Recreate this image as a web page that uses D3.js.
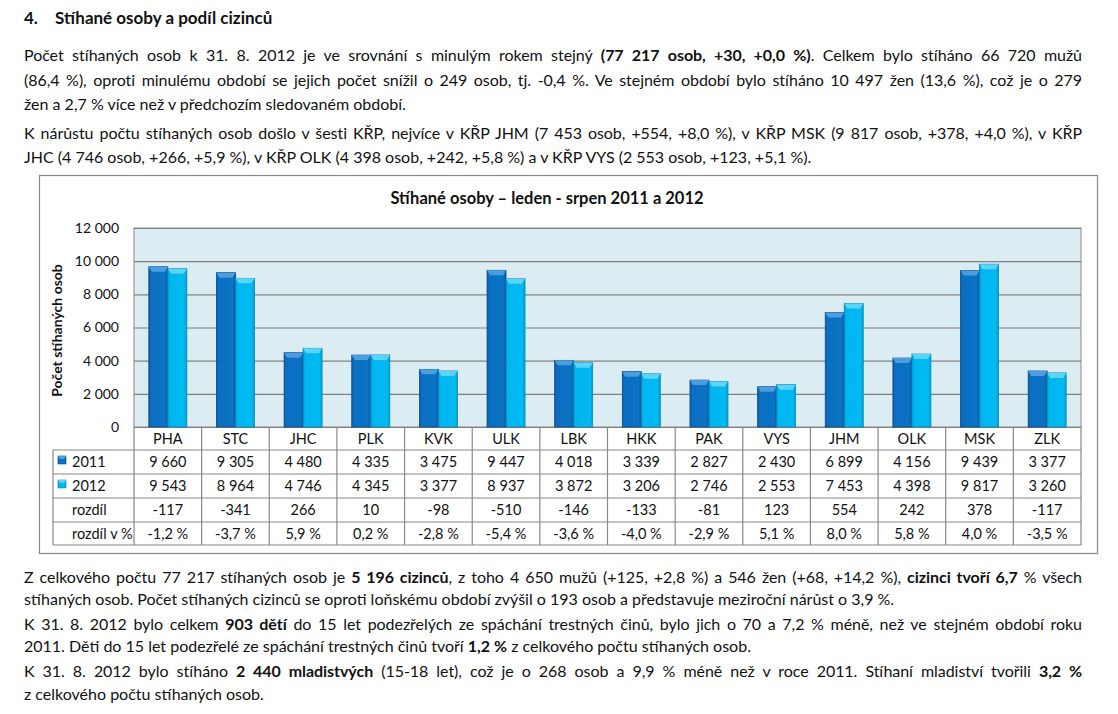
<!DOCTYPE html>
<html><head><meta charset="utf-8">
<script src="https://cdn.jsdelivr.net/npm/d3@7"></script>
<style>
html,body{margin:0;padding:0;background:#fff;}
body{width:1118px;height:714px;position:relative;overflow:hidden;font-family:Lato,"Open Sans",sans-serif;color:#111;}
.ln{position:absolute;left:24px;width:1058px;height:20px;line-height:20px;white-space:nowrap;font-size:16px;}
.ln.j{text-align:justify;text-align-last:justify;}
svg{position:absolute;left:0;top:0;}
</style></head><body>
<script>
const categories = ["PHA","STC","JHC","PLK","KVK","ULK","LBK","HKK","PAK","VYS","JHM","OLK","MSK","ZLK"];
const values2011 = [9660,9305,4480,4335,3475,9447,4018,3339,2827,2430,6899,4156,9439,3377];
const values2012 = [9543,8964,4746,4345,3377,8937,3872,3206,2746,2553,7453,4398,9817,3260];
const rozdil = [-117,-341,266,10,-98,-510,-146,-133,-81,123,554,242,378,-117];
const rozdilPct = ["-1,2 %","-3,7 %","5,9 %","0,2 %","-2,8 %","-5,4 %","-3,6 %","-4,0 %","-2,9 %","5,1 %","8,0 %","5,8 %","4,0 %","-3,5 %"];
const yTicks = [0,2000,4000,6000,8000,10000,12000];
const seriesNames = ["2011","2012"];
const chartTitle = "Stíhané osoby – leden - srpen 2011 a 2012";
const yAxisTitle = "Počet stíhaných osob";
const rowLabels = ["rozdíl","rozdíl v %"];

const loc = d3.formatLocale({decimal:",", thousands:"\u00a0", grouping:[3], currency:["",""], minus:"-"});
const fmt = loc.format(",d");

// ---------- prose ----------
const heading = {num:"4.", text:"Stíhané osoby a podíl cizinců"};
const proseLines = [
 {y:55, j:true, s:[["Počet stíhaných osob k 31. 8. 2012 je ve srovnání s minulým rokem stejný "],["(77\u00a0217 osob, +30, +0,0\u00a0%)",1],[". Celkem bylo stíháno 66\u00a0720 mužů"]]},
 {y:80, j:true, s:[["(86,4\u00a0%), oproti minulému období se jejich počet snížil o 249 osob, tj. -0,4\u00a0%. Ve stejném období bylo stíháno 10\u00a0497 žen (13,6\u00a0%), což je o 279"]]},
 {y:104, j:false, s:[["žen a 2,7\u00a0% více než v předchozím sledovaném období."]]},
 {y:133, j:true, s:[["K nárůstu počtu stíhaných osob došlo v šesti KŘP, nejvíce v KŘP JHM (7\u00a0453 osob, +554, +8,0\u00a0%), v KŘP MSK (9\u00a0817 osob, +378, +4,0\u00a0%), v KŘP"]]},
 {y:157, j:false, s:[["JHC (4\u00a0746 osob, +266, +5,9\u00a0%), v KŘP OLK (4\u00a0398 osob, +242, +5,8\u00a0%) a v KŘP VYS (2\u00a0553 osob, +123, +5,1\u00a0%)."]]},
 {y:577, j:true, s:[["Z celkového počtu 77\u00a0217 stíhaných osob je "],["5\u00a0196 cizinců",1],[", z toho 4\u00a0650 mužů (+125, +2,8\u00a0%) a 546 žen (+68, +14,2\u00a0%), "],["cizinci tvoří 6,7",1],["\u00a0% všech"]]},
 {y:599, j:false, s:[["stíhaných osob. Počet stíhaných cizinců se oproti loňskému období zvýšil o 193 osob a představuje meziroční nárůst o 3,9\u00a0%."]]},
 {y:624, j:true, s:[["K 31. 8. 2012 bylo celkem "],["903 dětí",1],[" do 15 let podezřelých ze spáchání trestných činů, bylo jich o 70 a 7,2\u00a0% méně, než ve stejném období roku"]]},
 {y:646, j:false, s:[["2011. Děti do 15 let podezřelé ze spáchání trestných činů tvoří "],["1,2\u00a0%",1],[" z celkového počtu stíhaných osob."]]},
 {y:671, j:true, s:[["K 31. 8. 2012 bylo stíháno "],["2\u00a0440 mladistvých",1],[" (15-18 let), což je o 268 osob a 9,9\u00a0% méně než v roce 2011. Stíhaní mladiství tvořili "],["3,2\u00a0%",1]]},
 {y:694, j:false, s:[["z celkového počtu stíhaných osob."]]}
];

const body = d3.select("body");
const h = body.append("div").attr("class","ln").style("top","8px").style("font-size","17px").style("font-weight","bold");
h.append("span").text(heading.num).style("display","inline-block").style("width","31px");
h.append("span").text(heading.text);

proseLines.forEach(l=>{
  const d = body.append("div").attr("class","ln"+(l.j?" j":"")).style("top",(l.y-10)+"px");
  const inner = d.append("span");
  l.s.forEach(seg=>{ inner.append("span").text(seg[0]).style("font-weight",seg[1]?"bold":null); });
  // shrink letter spacing if natural width overflows the column
  const w = inner.node().getBoundingClientRect().width;
  if (w > 1056) {
    const n = inner.text().length;
    d.style("letter-spacing", (-(w-1052)/n).toFixed(3)+"px");
  }
  // unwrap so justification applies to the whole line
  const node = inner.node();
  while (node.firstChild) d.node().insertBefore(node.firstChild, node);
  node.remove();
});

// ---------- chart ----------
const svg = body.append("svg").attr("width",1118).attr("height",714).style("pointer-events","none");
const defs = svg.append("defs");
function grad(id, stops){
  const g = defs.append("linearGradient").attr("id",id).attr("x1","0").attr("x2","1").attr("y1","0").attr("y2","0");
  stops.forEach(s=>g.append("stop").attr("offset",s[0]).attr("stop-color",s[1]));
}
grad("g2011",[[0,"#0a5ea8"],[0.12,"#0a6fc2"],[0.85,"#0b72c4"],[1,"#0a5a9e"]]);
grad("g2012",[[0,"#00a0dc"],[0.12,"#00b6f0"],[0.85,"#00baf2"],[1,"#009fd6"]]);
const topCol = ["#4a9ee0","#5cd4fa"];
const edgeCol = ["#0b4a80","#0a86b8"];

const box = {x:39, y:175, w:1058, h:378};
svg.append("rect").attr("x",box.x+0.5).attr("y",box.y+0.5).attr("width",box.w).attr("height",box.h)
  .attr("fill","none").attr("stroke","#888").attr("stroke-width",1.2);

const plot = {l:134, r:1081, t:228, b:427};
const x = d3.scaleBand().domain(categories).range([plot.l, plot.r]);
const y = d3.scaleLinear().domain([0,12000]).range([plot.b, plot.t]);

svg.append("rect").attr("x",plot.l).attr("y",plot.t).attr("width",plot.r-plot.l).attr("height",plot.b-plot.t)
  .attr("fill","#dbedf3").attr("stroke","#888").attr("stroke-width",1);

const gy = svg.append("g").attr("transform",`translate(${plot.l},0)`)
  .call(d3.axisLeft(y).tickValues(yTicks).tickSize(-(plot.r-plot.l)).tickPadding(15).tickFormat(fmt));
gy.select(".domain").remove();
gy.selectAll(".tick line").attr("stroke","#808080").attr("stroke-width",1.2);
gy.selectAll(".tick text").attr("font-family","Lato, sans-serif").attr("font-size",14).attr("fill","#111");

svg.append("text").attr("transform",`translate(62,${(plot.t+plot.b)/2+3}) rotate(-90)`)
  .attr("text-anchor","middle").attr("font-family","Lato, sans-serif").attr("font-weight","bold").attr("font-size",14).attr("fill","#111")
  .text(yAxisTitle);
svg.append("text").attr("x",547).attr("y",204).attr("text-anchor","middle")
  .attr("font-family","Lato, sans-serif").attr("font-weight","bold").attr("font-size",16.5).attr("fill","#111").text(chartTitle);

// bars
const bw = 19;
const series = [values2011, values2012];
series.forEach((vals,si)=>{
  const g = svg.append("g");
  categories.forEach((c,i)=>{
    const cx = x(c) + x.bandwidth()/2;
    const x0 = cx - bw + si*bw;
    const yt = y(vals[i]);
    g.append("rect").attr("x",x0).attr("y",yt).attr("width",bw).attr("height",plot.b-yt)
      .attr("fill",`url(#g${seriesNames[si]})`).attr("stroke",edgeCol[si]).attr("stroke-width",0.8);
    g.append("path").attr("d",`M${x0},${yt}L${x0+bw},${yt}L${x0+bw-3},${yt+5}L${x0+3},${yt+5}Z`)
      .attr("fill",topCol[si]).attr("stroke","none");
  });
});

// table
const rows = [
  {label:seriesNames[0], key:0, vals:values2011.map(fmt)},
  {label:seriesNames[1], key:1, vals:values2012.map(fmt)},
  {label:rowLabels[0], vals:rozdil.map(fmt)},
  {label:rowLabels[1], vals:rozdilPct}
];
const rowY = [450,474,498,522,545];
const tl = 53;
const tg = svg.append("g").attr("stroke","#888").attr("stroke-width",1.2);
categories.forEach((c,i)=>{
  tg.append("line").attr("x1",x(c)).attr("x2",x(c)).attr("y1",plot.b).attr("y2",rowY[4]);
});
tg.append("line").attr("x1",plot.r).attr("x2",plot.r).attr("y1",plot.b).attr("y2",rowY[4]);
tg.append("line").attr("x1",tl).attr("x2",tl).attr("y1",rowY[0]).attr("y2",rowY[4]);
rowY.forEach(yy=>tg.append("line").attr("x1",tl).attr("x2",plot.r).attr("y1",yy).attr("y2",yy));

const tt = svg.append("g").attr("font-family","Lato, sans-serif").attr("font-size",14.5).attr("fill","#111");
categories.forEach(c=>{
  tt.append("text").attr("x",x(c)+x.bandwidth()/2).attr("y",(plot.b+rowY[0])/2+5).attr("text-anchor","middle").text(c);
});
rows.forEach((r,ri)=>{
  const cy = (rowY[ri]+rowY[ri+1])/2+5;
  tt.append("text").attr("x",72).attr("y",cy).text(r.label);
  if(r.key!==undefined){
    svg.append("rect").attr("x",58).attr("y",cy-11).attr("width",8).attr("height",8)
      .attr("fill",`url(#g${seriesNames[r.key]})`).attr("stroke",edgeCol[r.key]).attr("stroke-width",0.6);
    svg.append("path").attr("d",`M58,${cy-11}L66,${cy-11}L64,${cy-8}L60,${cy-8}Z`).attr("fill",topCol[r.key]);
  }
  r.vals.forEach((v,i)=>{
    tt.append("text").attr("x",x(categories[i])+x.bandwidth()/2).attr("y",cy).attr("text-anchor","middle").text(v);
  });
});
</script>
</body></html>
